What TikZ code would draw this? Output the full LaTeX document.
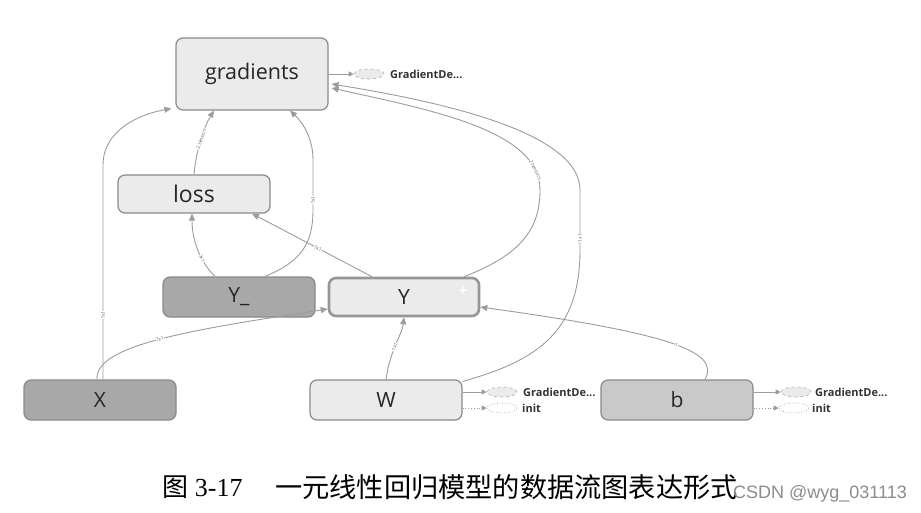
\documentclass[tikz,border=0pt]{standalone}
\usepackage{fontspec}
\setmainfont{Open Sans}
\newfontfamily\cjk{Noto Sans CJK SC}
\newfontfamily\wmfont{Liberation Sans}
\newfontfamily\serifnum{Liberation Serif}
\usetikzlibrary{arrows.meta,shapes.geometric}
\definecolor{edgec}{HTML}{9C9C9C}
\definecolor{boxline}{HTML}{8A8A8A}
\definecolor{lightfill}{HTML}{EBEBEC}
\definecolor{darkfill}{HTML}{A8A8A8}
\definecolor{midfill}{HTML}{C9C9C9}
\begin{document}
\begin{tikzpicture}[x=1pt,y=-1pt,
  opbox/.style={draw=boxline,rounded corners=7pt,minimum width=152pt,minimum height=40pt,
    line width=1.2pt,inner sep=0pt,font=\fontsize{21}{22}\selectfont,text=black!85},
  flow/.style={draw=edgec,line width=0.9pt,-{Triangle[length=7pt,width=6pt]}},
  elab/.style={font=\fontsize{5}{6}\selectfont,text=black!60,sloped,inner sep=0.3pt,fill=white},
  aux/.style={ellipse,draw=boxline!70,fill=black!8,minimum width=30pt,minimum height=10pt,inner sep=0pt,line width=0.6pt},
  auxtext/.style={anchor=west,font=\fontsize{11}{12}\selectfont\bfseries,text=black!80,inner sep=0pt},
  auxarrow/.style={draw=edgec,line width=0.8pt,-{Triangle[length=5pt,width=5pt]}},
]
\useasboundingbox (0,0) rectangle (921,513);
\fill[white] (0,0) rectangle (921,513);

% nodes
\node[opbox,fill=lightfill,minimum height=72pt,font=\fontsize{21.5}{22}\selectfont] (gradients) at (252,74) {gradients};
\node[opbox,fill=lightfill,minimum height=38pt,font=\fontsize{23}{24}\selectfont] (loss) at (194,194) {loss};
\node[opbox,fill=darkfill] (Yu) at (239,297) {Y\_};
\node[opbox,fill=lightfill,line width=2.6pt,draw=boxline!90,minimum width=150pt,minimum height=38pt] (Y) at (404,297) {Y};
\node[text=white,font=\fontsize{14}{14}\selectfont\bfseries,inner sep=0pt] (plus) at (463,291) {+};
\node[opbox,fill=darkfill] (X) at (100,400) {X};
\node[opbox,fill=lightfill] (W) at (386,400) {W};
\node[opbox,fill=midfill] (b) at (677,400) {b};

% auxiliary nodes
\node[aux,dashed] (gaux) at (369,74) {};
\node[auxtext] (gtext) at (390,74) {GradientDe...};
\draw[auxarrow] (gradients.east) -- (gaux.west);

\node[aux,dashed] (waux) at (502,392) {};
\node[auxtext] (wtext) at (523,392) {GradientDe...};
\node[aux,dotted,fill=white,draw=boxline] (winit) at (502,408) {};
\node[auxtext] (wit) at (522,408) {init};
\draw[auxarrow] ([yshift=8pt]W.east) -- (waux.west);
\draw[auxarrow,dotted] ([yshift=-8pt]W.east) -- (winit.west);

\node[aux,dashed] (baux) at (796,392) {};
\node[auxtext] (btext) at (815,392) {GradientDe...};
\node[aux,dotted,fill=white,draw=boxline] (binit) at (794,408) {};
\node[auxtext] (bit) at (812,408) {init};
\draw[auxarrow] ([yshift=8pt]b.east) -- (baux.west);
\draw[auxarrow,dotted] ([yshift=-8pt]b.east) -- (binit.west);

% edges
\draw[flow] ([xshift=3pt]X.north) -- (103,165) node[elab,pos=0.3] {?x1}
  .. controls (103,130) and (140,114) .. ([xshift=-4pt,yshift=2pt]gradients.south west);
\draw[flow] ([xshift=-3pt]X.north) .. controls (95,345) and (190,330) .. ([yshift=-12pt]Y.west)
  node[elab,pos=0.5] {?x1};
\draw[flow] (loss.north) .. controls (196,150) and (205,125) .. ([xshift=-38pt]gradients.south)
  node[elab,pos=0.5] {2 tensors};
\draw[flow] ([xshift=-24pt]Yu.north) .. controls (200,262) and (192,240) .. ([xshift=-2pt]loss.south)
  node[elab,pos=0.35] {?x1};
\draw[flow] ([xshift=26pt]Yu.north) .. controls (300,262) and (313,245) .. (313,210)
  -- (313,160) node[elab,pos=0.2] {?x1}
  .. controls (313,135) and (300,120) .. ([xshift=38pt]gradients.south);
\draw[flow] ([xshift=-32pt]Y.north) -- ([xshift=58pt]loss.south) node[elab,pos=0.45] {?x1};
\draw[flow] ([xshift=60pt]Y.north) .. controls (520,255) and (540,230) .. (540,190)
  .. controls (540,130) and (430,110) .. ([xshift=3pt,yshift=-14pt]gradients.east)
  node[elab,pos=0.12] {2 tensors};
\draw[flow] ([yshift=-2pt]W.north east) .. controls (540,360) and (580,330) .. (580,250)
  -- (580,190) node[elab,pos=0.2] {1x1}
  .. controls (580,130) and (430,100) .. ([xshift=3pt,yshift=-10pt]gradients.east);
\draw[flow] (W.north) .. controls (390,350) and (402,335) .. (Y.south)
  node[elab,pos=0.45] {1x1};
\draw[flow] ([xshift=28pt]b.north) .. controls (722,350) and (660,332) .. ([yshift=-10pt]Y.east)
  node[elab,pos=0.45] {1};

% caption
\node[anchor=west,inner sep=0pt,font=\fontsize{26}{28}\selectfont] (capnum) at (162,487) {{\cjk 图} \serifnum 3-17};
\node[anchor=west,inner sep=0pt,font=\fontsize{27.2}{28}\selectfont\cjk] (cap) at (275,487) {一元线性回归模型的数据流图表达形式};
\node[anchor=east,inner sep=0pt,font=\fontsize{18}{20}\selectfont\wmfont,text=black!45] (wm) at (907,494) {CSDN @wyg\_031113};
\end{tikzpicture}
\end{document}
